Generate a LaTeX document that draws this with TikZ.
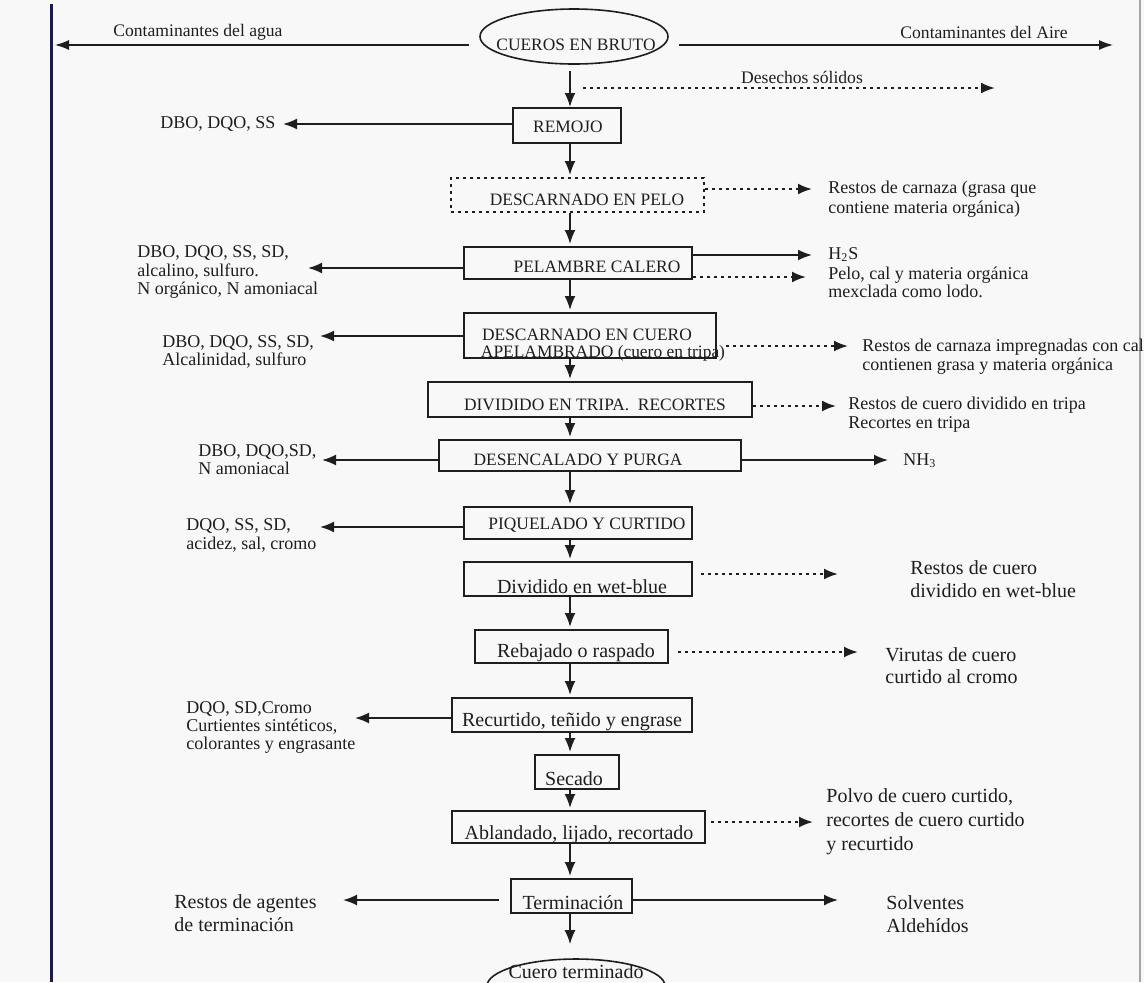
\documentclass[tikz,border=0pt]{standalone}
\usepackage{fontspec}
\setmainfont{Liberation Serif}
\usetikzlibrary{arrows.meta,shapes.geometric}

\definecolor{inkc}{RGB}{30,30,30}
\definecolor{bgc}{RGB}{248,248,248}
\definecolor{navyc}{RGB}{25,25,95}
\definecolor{edgec}{RGB}{165,165,165}

\tikzset{
  proc/.style={draw=inkc, line width=1pt, inner sep=0pt},
  dotbox/.style={proc, dash pattern=on 1.3pt off 2.2pt},
  capt/.style={font=\fontsize{8.7}{10}\selectfont, text=inkc, inner sep=0pt},
  lowt/.style={font=\fontsize{10}{11}\selectfont, text=inkc, inner sep=0pt},
  lbl/.style={font=\fontsize{9}{9.2}\selectfont, text=inkc, align=left, anchor=west, inner sep=0pt},
  rlbl/.style={font=\fontsize{9}{9.6}\selectfont, text=inkc, align=left, anchor=west, inner sep=0pt},
  biglbl/.style={font=\fontsize{10}{11.2}\selectfont, text=inkc, align=left, anchor=west, inner sep=0pt},
  flow/.style={draw=inkc, line width=0.9pt, -{Latex[length=7pt,width=5.5pt]}},
  dotflow/.style={flow, line width=1.1pt, dash pattern=on 1.3pt off 2.2pt},
  topflow/.style={draw=inkc, line width=0.7pt, -{Latex[length=7pt,width=5pt]}}
}

\begin{document}
\begin{tikzpicture}[x=0.5pt, y=-0.5pt]
\useasboundingbox (0,0) rectangle (1144,982);
\clip (0,0) rectangle (1144,982);
\fill[bgc] (0,0) rectangle (1144,982);
% page edges
\draw[navyc, line width=1.5pt] (51,4) -- (51,982);
\draw[edgec, line width=0.7pt] (1140,0) -- (1140,982);

\coordinate (spine) at (570,0);

% main column
\node[ellipse, draw=inkc, line width=0.8pt, minimum width=94pt, minimum height=27.5pt, inner sep=0pt] (bruto) at (574,36.5) {};
\node[capt] (bruto-t) at (576,45) {CUEROS EN BRUTO};

\node[proc, minimum width=54pt, minimum height=17.5pt] (remojo) at (567,125.5) {};
\node[capt] (remojo-t) at (568,127) {REMOJO};

\node[dotbox, minimum width=126.5pt, minimum height=17pt] (pelo) at (577.5,195) {};
\node[capt] (pelo-t) at (587,200) {DESCARNADO EN PELO};

\node[proc, minimum width=114pt, minimum height=16pt] (pelambre) at (578,263) {};
\node[capt] (pelambre-t) at (597,267) {PELAMBRE CALERO};

\node[proc, minimum width=126pt, minimum height=22.5pt] (cuero) at (590,335.5) {};
\node[capt] (cuero-t) at (587,335) {DESCARNADO EN CUERO};
\node[capt] (cuero-t2) at (603,353) {APELAMBRADO (cuero en tripa)};

\node[proc, minimum width=162pt, minimum height=17.5pt] (tripa) at (590,399.5) {};
\node[capt] (tripa-t) at (595,405) {DIVIDIDO EN TRIPA.\ \ RECORTES};

\node[proc, minimum width=151pt, minimum height=15.5pt] (purga) at (590,455.5) {};
\node[capt] (purga-t) at (578,460) {DESENCALADO Y PURGA};

\node[proc, minimum width=114pt, minimum height=16pt] (piquelado) at (578,523) {};
\node[capt] (piquelado-t) at (587,525) {PIQUELADO Y CURTIDO};

\node[proc, minimum width=114pt, minimum height=17pt] (wetblue) at (578,579) {};
\node[lowt] (wetblue-t) at (582,587) {Dividido en wet-blue};

\node[proc, minimum width=96.5pt, minimum height=16.5pt] (rebajado) at (571.5,646.5) {};
\node[lowt] (rebajado-t) at (576,653) {Rebajado o raspado};

\node[proc, minimum width=120pt, minimum height=17pt] (recurtido) at (572,715) {};
\node[lowt] (recurtido-t) at (572,722) {Recurtido, teñido y engrase};

\node[proc, minimum width=42pt, minimum height=17pt] (secado) at (577,772) {};
\node[lowt] (secado-t) at (574,779) {Secado};

\node[proc, minimum width=126.5pt, minimum height=16pt] (ablandado) at (578.5,827) {};
\node[lowt] (ablandado-t) at (579,835) {Ablandado, lijado, recortado};

\node[proc, minimum width=60.5pt, minimum height=17pt] (terminacion) at (571.5,896) {};
\node[lowt] (terminacion-t) at (573,903) {Terminación};

\node[ellipse, draw=inkc, line width=0.8pt, minimum width=89pt, minimum height=27pt, inner sep=0pt] (terminado) at (576,986) {};
\node[lowt] (terminado-t) at (576,972) {Cuero terminado};

% spine arrows
\draw[flow, shorten <=3pt] (bruto.south -| spine) -- (remojo.north -| spine);
\foreach \a/\b in {remojo/pelo, pelo/pelambre, pelambre/cuero, cuero/tripa,
  tripa/purga, purga/piquelado, piquelado/wetblue, wetblue/rebajado,
  rebajado/recurtido, recurtido/secado, secado/ablandado, ablandado/terminacion}
  \draw[flow, shorten >=1pt] (\a.south -| spine) -- (\b.north -| spine);
\draw[flow, shorten >=7pt] (terminacion.south -| spine) -- (terminado.north -| spine);

% top row
\node[font=\fontsize{8.8}{10}\selectfont, text=inkc, anchor=west, inner sep=0pt] (agua) at (113,32) {Contaminantes del agua};
\node[font=\fontsize{8.8}{10}\selectfont, text=inkc, anchor=west, inner sep=0pt] (aire) at (900,32) {Contaminantes del Aire};
\coordinate (t-agua) at (55,45);
\coordinate (t-aire) at (1113,45);
\draw[topflow, shorten <=5pt] (bruto.west |- t-agua) -- (t-agua);
\draw[topflow, shorten <=5pt] (bruto.east |- t-aire) -- (t-aire);

\node[font=\fontsize{8.8}{10}\selectfont, text=inkc, inner sep=0pt] (desechos) at (802,77) {Desechos sólidos};
\coordinate (s-desechos) at (583,88);
\coordinate (t-desechos) at (995,88);
\draw[dotflow] (s-desechos) -- (t-desechos);

% water side
\node[lbl] (l-remojo) at (160,124) {DBO, DQO, SS};
\node[lbl] (l-pelambre) at (137,272) {DBO, DQO, SS, SD,\\alcalino, sulfuro.\\N orgánico, N amoniacal};
\node[lbl] (l-cuero) at (162,352) {DBO, DQO, SS, SD,\\Alcalinidad, sulfuro};
\node[lbl] (l-purga) at (198,459.5) {DBO, DQO,SD,\\N amoniacal};
\node[lbl] (l-piquelado) at (186,535.5) {DQO, SS, SD,\\acidez, sal, cromo};
\node[lbl] (l-recurtido) at (186,727.5) {DQO, SD,Cromo\\Curtientes sintéticos,\\colorantes y engrasante};
\node[biglbl] (l-terminacion) at (174,913) {Restos de agentes\\de terminación};

\coordinate (t-remojo) at (283,124);
\coordinate (t-pelambre) at (308,268);
\coordinate (t-cuero) at (320,336);
\coordinate (t-purga) at (322,460);
\coordinate (t-piquelado) at (320,527);
\coordinate (t-recurtido) at (355,718);
\coordinate (t-terminacion) at (343,900);
\foreach \b in {remojo, pelambre, cuero, purga, piquelado, recurtido}
  \draw[flow] (\b.west |- t-\b) -- (t-\b);
\draw[flow, shorten <=5.5pt] (terminacion.west |- t-terminacion) -- (t-terminacion);

% air and solid side
\node[rlbl, font=\fontsize{9}{10}\selectfont] (r-pelo) at (828,199.5) {Restos de carnaza (grasa que\\contiene materia orgánica)};
\node[rlbl] (r-h2s) at (828,255) {H\textsubscript{2}S};
\node[rlbl, font=\fontsize{9}{9}\selectfont] (r-lodo) at (828,282) {Pelo, cal y materia orgánica\\mexclada como lodo.};
\node[rlbl] (r-cuero) at (862,356.5) {Restos de carnaza impregnadas con cal\\contienen grasa y materia orgánica};
\node[rlbl] (r-tripa) at (848,414.5) {Restos de cuero dividido en tripa\\Recortes en tripa};
\node[rlbl] (r-purga) at (903,461) {NH\textsubscript{3}};
\node[biglbl] (r-wetblue) at (910,579) {Restos de cuero\\dividido en wet-blue};
\node[biglbl] (r-rebajado) at (885,665.5) {Virutas de cuero\\curtido al cromo};
\node[biglbl, font=\fontsize{10}{12}\selectfont] (r-ablandado) at (826,822) {Polvo de cuero curtido,\\recortes de cuero curtido\\y recurtido};
\node[biglbl] (r-terminacion) at (886,914) {Solventes\\Aldehídos};

\coordinate (t-pelo) at (812,189);
\coordinate (t-h2s) at (812,255);
\coordinate (t-lodo) at (806,277);
\coordinate (u-cuero) at (848,346);
\coordinate (t-tripa) at (836,406);
\coordinate (t-nh3) at (888,460);
\coordinate (t-wetblue) at (838,574);
\coordinate (t-rebajado) at (858,652);
\coordinate (t-ablandado) at (813,822);
\coordinate (t-solventes) at (838,900);

\draw[dotflow] (pelo.east |- t-pelo) -- (t-pelo);
\draw[flow] (pelambre.east |- t-h2s) -- (t-h2s);
\draw[dotflow] (pelambre.east |- t-lodo) -- (t-lodo);
\draw[dotflow, shorten <=4.5pt] (cuero.east |- u-cuero) -- (u-cuero);
\draw[dotflow] (tripa.east |- t-tripa) -- (t-tripa);
\draw[flow] (purga.east |- t-nh3) -- (t-nh3);
\draw[dotflow, shorten <=4pt] (wetblue.east |- t-wetblue) -- (t-wetblue);
\draw[dotflow, shorten <=4.5pt] (rebajado.east |- t-rebajado) -- (t-rebajado);
\draw[dotflow, shorten <=2.5pt] (ablandado.east |- t-ablandado) -- (t-ablandado);
\draw[flow] (terminacion.east |- t-solventes) -- (t-solventes);
\end{tikzpicture}
\end{document}
